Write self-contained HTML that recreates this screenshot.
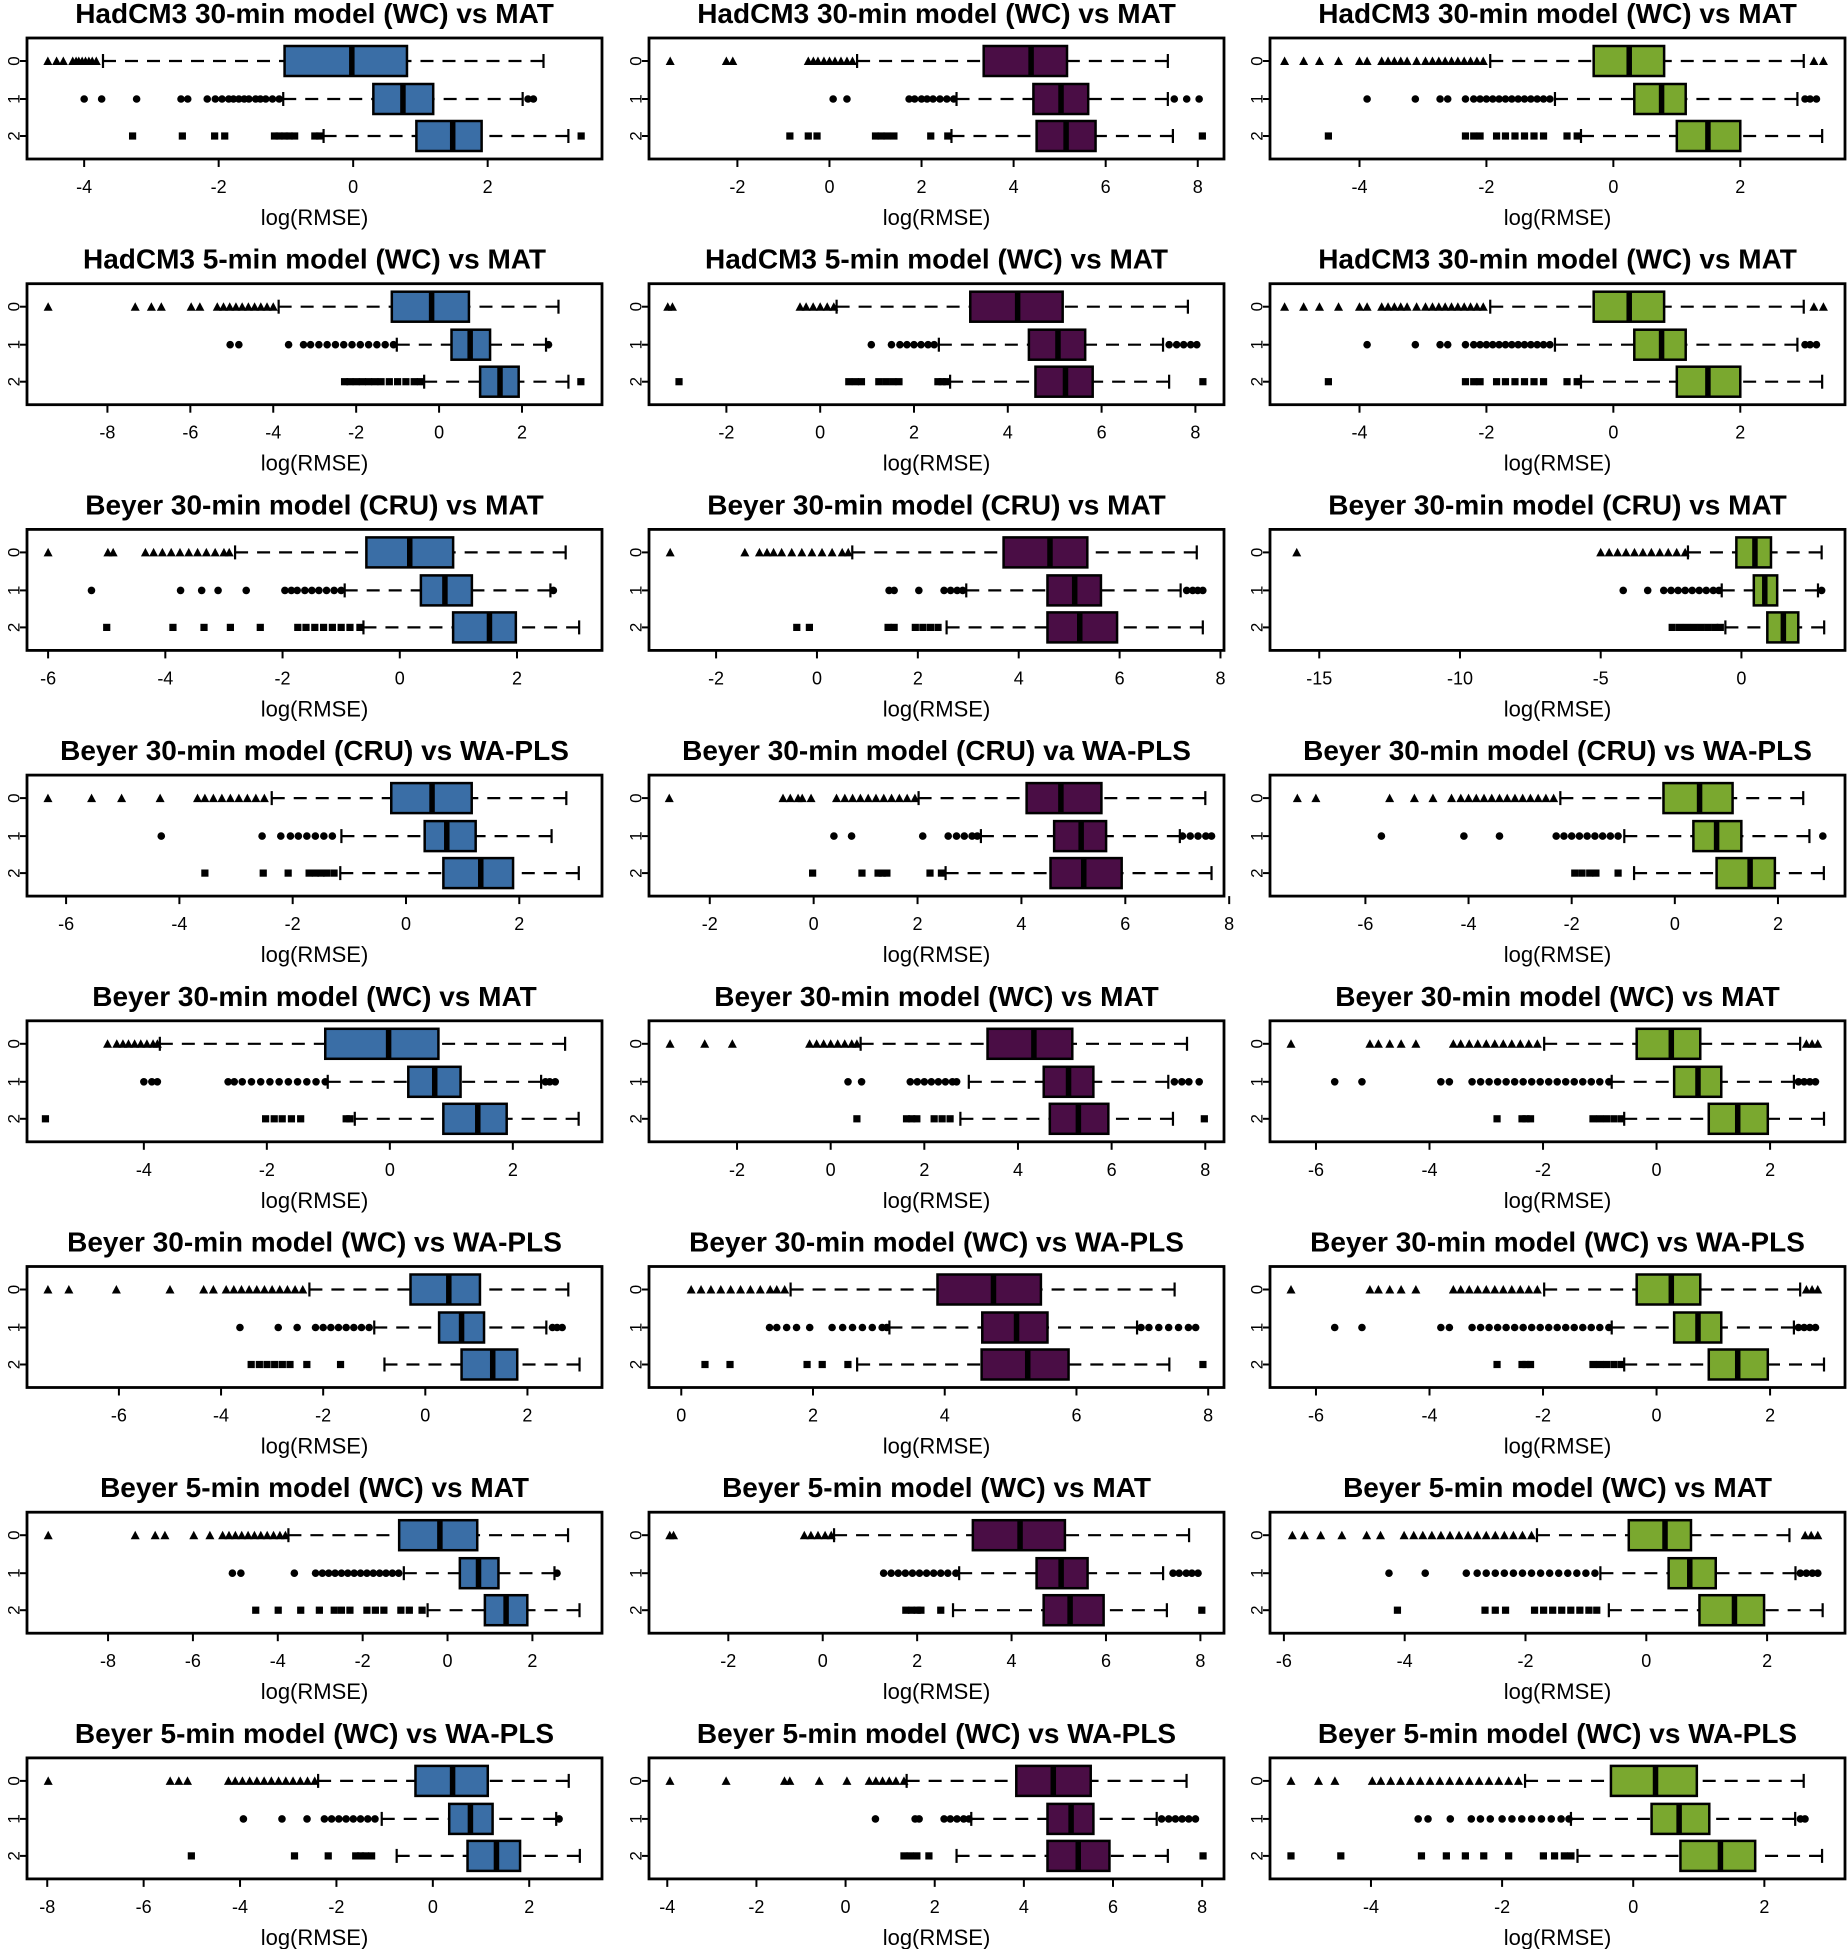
<!DOCTYPE html>
<html><head><meta charset="utf-8"><style>
html,body{margin:0;padding:0;background:#fff;}
svg{display:block;font-family:"Liberation Sans",Arial,sans-serif;}
</style></head><body>
<svg id="fig" width="1848" height="1949" viewBox="0 0 1848 1949" xmlns="http://www.w3.org/2000/svg"></svg>
<script>
const panelTitles = [
"HadCM3 30-min model (WC) vs MAT","HadCM3 30-min model (WC) vs MAT","HadCM3 30-min model (WC) vs MAT",
"HadCM3 5-min model (WC) vs MAT","HadCM3 5-min model (WC) vs MAT","HadCM3 30-min model (WC) vs MAT",
"Beyer 30-min model (CRU) vs MAT","Beyer 30-min model (CRU) vs MAT","Beyer 30-min model (CRU) vs MAT",
"Beyer 30-min model (CRU) vs WA-PLS","Beyer 30-min model (CRU) va WA-PLS","Beyer 30-min model (CRU) vs WA-PLS",
"Beyer 30-min model (WC) vs MAT","Beyer 30-min model (WC) vs MAT","Beyer 30-min model (WC) vs MAT",
"Beyer 30-min model (WC) vs WA-PLS","Beyer 30-min model (WC) vs WA-PLS","Beyer 30-min model (WC) vs WA-PLS",
"Beyer 5-min model (WC) vs MAT","Beyer 5-min model (WC) vs MAT","Beyer 5-min model (WC) vs MAT",
"Beyer 5-min model (WC) vs WA-PLS","Beyer 5-min model (WC) vs WA-PLS","Beyer 5-min model (WC) vs WA-PLS"];
const groupLabels = ["0","1","2"];
const xLabel = "log(RMSE)";
const panelDomains = [
[-4.85,3.70],[-3.92,8.57],[-5.41,3.65],
[-9.94,3.93],[-3.65,8.61],[-5.41,3.65],
[-6.36,3.45],[-3.33,8.07],[-16.75,3.68],
[-6.69,3.46],[-3.17,7.9],[-7.85,3.3],
[-5.9,3.45],[-3.88,8.4],[-6.81,3.32],
[-7.8,3.46],[-0.49,8.24],[-6.81,3.32],
[-9.91,3.64],[-3.68,8.5],[-6.23,3.29],
[-8.42,3.51],[-4.41,8.49],[-5.54,3.23]];
const panelTicks = [
[-4,-2,0,2],[-2,0,2,4,6,8],[-4,-2,0,2],
[-8,-6,-4,-2,0,2],[-2,0,2,4,6,8],[-4,-2,0,2],
[-6,-4,-2,0,2],[-2,0,2,4,6,8],[-15,-10,-5,0],
[-6,-4,-2,0,2],[-2,0,2,4,6,8],[-6,-4,-2,0,2],
[-4,-2,0,2],[-2,0,2,4,6,8],[-6,-4,-2,0,2],
[-6,-4,-2,0,2],[0,2,4,6,8],[-6,-4,-2,0,2],
[-8,-6,-4,-2,0,2],[-2,0,2,4,6,8],[-6,-4,-2,0,2],
[-8,-6,-4,-2,0,2],[-4,-2,0,2,4,6,8],[-4,-2,0,2]];
// [whiskerLow, q1, median, q3, whiskerHigh] per group
const boxStats = [
[[-3.72,-1.02,-0.02,0.8,2.83],[-1.04,0.3,0.74,1.19,2.52],[-0.44,0.94,1.48,1.91,3.2]],
[[0.6,3.35,4.38,5.16,7.35],[2.76,4.43,5.03,5.62,7.35],[2.65,4.5,5.14,5.78,7.46]],
[[-1.94,-0.31,0.25,0.8,3.0],[-0.92,0.33,0.76,1.14,2.9],[-0.51,1.0,1.49,2.0,3.29]],
[[-3.87,-1.14,-0.18,0.72,2.88],[-1.02,0.3,0.75,1.23,2.58],[-0.36,0.99,1.47,1.92,3.12]],
[[0.35,3.2,4.21,5.17,7.84],[2.53,4.45,5.07,5.65,7.31],[2.77,4.59,5.23,5.81,7.44]],
[[-1.94,-0.31,0.25,0.8,3.0],[-0.92,0.33,0.76,1.14,2.9],[-0.51,1.0,1.49,2.0,3.29]],
[[-2.81,-0.57,0.17,0.91,2.83],[-0.94,0.36,0.77,1.23,2.57],[-0.62,0.91,1.53,1.98,3.06]],
[[0.7,3.7,4.62,5.36,7.53],[2.96,4.57,5.11,5.63,7.21],[2.57,4.57,5.21,5.95,7.65]],
[[-1.9,-0.18,0.48,1.05,2.85],[-0.7,0.44,0.83,1.27,2.72],[-0.57,0.92,1.49,2.02,2.94]],
[[-2.37,-0.26,0.46,1.16,2.83],[-1.14,0.33,0.72,1.23,2.57],[-1.16,0.66,1.32,1.89,3.05]],
[[2.02,4.1,4.76,5.54,7.54],[3.22,4.63,5.15,5.63,7.05],[2.54,4.56,5.2,5.93,7.66]],
[[-2.22,-0.22,0.48,1.12,2.49],[-0.98,0.36,0.81,1.29,2.61],[-0.79,0.81,1.46,1.94,2.89]],
[[-3.74,-1.05,-0.02,0.79,2.85],[-1.01,0.3,0.73,1.15,2.46],[-0.57,0.87,1.43,1.9,3.07]],
[[0.64,3.35,4.34,5.16,7.61],[2.95,4.55,5.08,5.61,7.21],[2.77,4.68,5.29,5.93,7.31]],
[[-1.98,-0.35,0.26,0.77,2.53],[-0.79,0.31,0.73,1.14,2.42],[-0.57,0.92,1.43,1.96,2.95]],
[[-2.27,-0.29,0.46,1.07,2.8],[-1.0,0.27,0.71,1.15,2.37],[-0.8,0.71,1.32,1.8,3.02]],
[[1.66,3.89,4.74,5.46,7.49],[3.16,4.57,5.09,5.56,6.92],[2.67,4.56,5.26,5.88,7.41]],
[[-1.98,-0.35,0.26,0.77,2.53],[-0.79,0.31,0.73,1.14,2.42],[-0.57,0.92,1.43,1.96,2.95]],
[[-3.75,-1.14,-0.18,0.7,2.84],[-1.03,0.29,0.73,1.2,2.52],[-0.47,0.88,1.38,1.88,3.11]],
[[0.24,3.18,4.18,5.13,7.76],[2.89,4.53,5.05,5.61,7.21],[2.76,4.68,5.24,5.95,7.29]],
[[-1.81,-0.29,0.31,0.74,2.37],[-0.76,0.37,0.72,1.15,2.47],[-0.62,0.88,1.46,1.95,2.92]],
[[-2.38,-0.36,0.41,1.14,2.82],[-1.06,0.34,0.78,1.24,2.56],[-0.75,0.72,1.32,1.81,3.05]],
[[1.37,3.83,4.66,5.5,7.65],[2.82,4.53,5.06,5.56,6.98],[2.49,4.53,5.22,5.92,7.23]],
[[-1.65,-0.34,0.34,0.97,2.6],[-0.95,0.28,0.7,1.16,2.47],[-0.85,0.72,1.33,1.86,2.88]]];
const outliers = [
[[-4.54,-4.41,-4.31,-4.17,-4.12,-4.08,-4.03,-3.98,-3.93,-3.88,-3.82],[-4.0,-3.74,-3.22,-2.56,-2.46,-2.17,-2.05,-1.95,-1.85,-1.78,-1.7,-1.62,-1.55,-1.45,-1.38,-1.3,-1.2,-1.1,2.6,2.68],[-3.28,-2.54,-2.06,-1.91,-1.17,-1.1,-1.02,-0.95,-0.87,-0.57,-0.5,3.39]],
[[-3.46,-2.24,-2.1,-0.46,-0.35,-0.25,-0.12,0.0,0.12,0.25,0.38,0.5],[0.08,0.38,1.73,1.85,2.0,2.12,2.25,2.4,2.55,2.7,7.49,7.76,8.03],[-0.86,-0.46,-0.27,1.0,1.12,1.25,1.4,2.2,2.57,8.1]],
[[-5.18,-4.88,-4.63,-4.33,-4.0,-3.88,-3.65,-3.55,-3.45,-3.35,-3.25,-3.1,-2.96,-2.85,-2.75,-2.65,-2.55,-2.45,-2.35,-2.25,-2.15,-2.05,3.16,3.31],[-3.88,-3.12,-2.73,-2.61,-2.33,-2.2,-2.1,-2.0,-1.9,-1.8,-1.7,-1.6,-1.5,-1.4,-1.3,-1.2,-1.1,-1.0,3.02,3.1,3.2],[-4.49,-2.33,-2.2,-2.1,-1.84,-1.7,-1.55,-1.4,-1.25,-1.1,-0.73,-0.57]],
[[-9.43,-7.33,-6.94,-6.7,-5.98,-5.77,-5.35,-5.2,-5.05,-4.9,-4.75,-4.6,-4.45,-4.3,-4.15,-4.0],[-5.04,-4.83,-3.63,-3.27,-3.1,-2.9,-2.7,-2.5,-2.3,-2.1,-1.9,-1.7,-1.5,-1.3,-1.1,2.64],[-2.28,-2.15,-2.0,-1.85,-1.7,-1.55,-1.4,-1.2,-1.0,-0.8,-0.6,-0.45,3.42]],
[[-3.25,-3.15,-0.43,-0.3,-0.15,0.0,0.15,0.29],[1.09,1.52,1.7,1.85,2.0,2.15,2.3,2.43,7.44,7.6,7.75,7.9,8.03],[-3.01,0.61,0.75,0.88,1.25,1.4,1.55,1.68,2.51,2.6,2.69,8.16]],
[[-5.18,-4.88,-4.63,-4.33,-4.0,-3.88,-3.65,-3.55,-3.45,-3.35,-3.25,-3.1,-2.96,-2.85,-2.75,-2.65,-2.55,-2.45,-2.35,-2.25,-2.15,-2.05,3.16,3.31],[-3.88,-3.12,-2.73,-2.61,-2.33,-2.2,-2.1,-2.0,-1.9,-1.8,-1.7,-1.6,-1.5,-1.4,-1.3,-1.2,-1.1,-1.0,3.02,3.1,3.2],[-4.49,-2.33,-2.2,-2.1,-1.84,-1.7,-1.55,-1.4,-1.25,-1.1,-0.73,-0.57]],
[[-6.0,-4.98,-4.89,-4.34,-4.2,-4.05,-3.9,-3.75,-3.6,-3.45,-3.3,-3.15,-3.0,-2.91],[-5.26,-3.74,-3.38,-3.1,-2.62,-1.96,-1.85,-1.75,-1.62,-1.5,-1.38,-1.25,-1.12,-1.0,2.62],[-5.0,-3.87,-3.34,-2.89,-2.38,-1.74,-1.6,-1.45,-1.3,-1.15,-1.0,-0.85,-0.68]],
[[-2.91,-1.43,-1.14,-0.99,-0.86,-0.7,-0.5,-0.3,-0.1,0.1,0.3,0.5,0.62],[1.43,1.53,2.02,2.52,2.65,2.78,2.89,7.33,7.45,7.55,7.65],[-0.4,-0.15,1.41,1.53,1.95,2.1,2.25,2.4]],
[[-15.8,-5.0,-4.7,-4.4,-4.1,-3.8,-3.5,-3.2,-2.9,-2.6,-2.3,-2.0],[-4.2,-3.33,-2.76,-2.5,-2.25,-2.0,-1.75,-1.5,-1.25,-1.0,-0.8,2.85],[-2.46,-2.2,-1.95,-1.7,-1.45,-1.2,-0.95,-0.75]],
[[-6.32,-5.55,-5.02,-4.34,-3.68,-3.55,-3.4,-3.25,-3.1,-2.95,-2.8,-2.65,-2.5],[-4.32,-2.54,-2.21,-2.04,-1.9,-1.75,-1.6,-1.45,-1.3],[-3.55,-2.52,-2.08,-1.71,-1.6,-1.5,-1.4,-1.27]],
[[-2.78,-0.59,-0.45,-0.3,-0.22,-0.05,0.44,0.6,0.75,0.9,1.05,1.2,1.35,1.5,1.65,1.8,1.95],[0.39,0.73,2.1,2.59,2.75,2.9,3.05,3.15,7.1,7.25,7.4,7.55,7.66],[-0.02,0.93,1.24,1.32,1.41,2.24,2.46]],
[[-7.32,-6.96,-5.53,-5.05,-4.69,-4.33,-4.15,-4.0,-3.85,-3.7,-3.55,-3.4,-3.25,-3.1,-2.95,-2.8,-2.65,-2.5,-2.35],[-5.69,-4.09,-3.4,-2.3,-2.15,-2.0,-1.85,-1.7,-1.55,-1.4,-1.25,-1.1,2.87],[-1.94,-1.8,-1.65,-1.53,-1.1]],
[[-4.59,-4.44,-4.34,-4.25,-4.15,-4.05,-3.95,-3.85,-3.78],[-4.0,-3.87,-3.78,-2.63,-2.53,-2.4,-2.25,-2.1,-1.95,-1.8,-1.65,-1.5,-1.35,-1.2,-1.05,2.53,2.6,2.69],[-5.6,-2.02,-1.88,-1.75,-1.6,-1.45,-0.71,-0.65]],
[[-3.43,-2.69,-2.1,-0.45,-0.3,-0.15,0.0,0.15,0.3,0.45,0.56],[0.37,0.66,1.7,1.85,2.0,2.15,2.3,2.45,2.6,2.69,7.34,7.5,7.65,7.87],[0.56,1.62,1.73,1.84,2.21,2.38,2.55,7.98]],
[[-6.44,-5.05,-4.9,-4.7,-4.5,-4.24,-3.58,-3.45,-3.3,-3.15,-3.0,-2.85,-2.7,-2.55,-2.4,-2.25,-2.1,2.64,2.74,2.84],[-5.67,-5.19,-3.8,-3.65,-3.25,-3.1,-2.95,-2.8,-2.65,-2.5,-2.35,-2.2,-2.05,-1.9,-1.75,-1.6,-1.45,-1.3,-1.15,-1.0,-0.84,2.5,2.6,2.7,2.8],[-2.81,-2.37,-2.3,-2.22,-1.12,-1.0,-0.88,-0.75,-0.62]],
[[-7.39,-6.98,-6.05,-5.0,-4.34,-4.15,-3.9,-3.75,-3.6,-3.45,-3.3,-3.15,-3.0,-2.85,-2.7,-2.55,-2.4],[-3.63,-2.88,-2.51,-2.15,-2.0,-1.85,-1.7,-1.55,-1.4,-1.25,-1.1,2.49,2.58,2.68],[-3.41,-3.25,-3.1,-2.95,-2.8,-2.65,-2.32,-1.66]],
[[0.15,0.3,0.45,0.6,0.75,0.9,1.05,1.2,1.35,1.45,1.57],[1.34,1.45,1.6,1.75,1.95,2.29,2.45,2.6,2.75,2.9,3.05,3.12,6.98,7.1,7.25,7.4,7.55,7.7,7.81],[0.36,0.74,1.91,2.14,2.53,7.92]],
[[-6.44,-5.05,-4.9,-4.7,-4.5,-4.24,-3.58,-3.45,-3.3,-3.15,-3.0,-2.85,-2.7,-2.55,-2.4,-2.25,-2.1,2.64,2.74,2.84],[-5.67,-5.19,-3.8,-3.65,-3.25,-3.1,-2.95,-2.8,-2.65,-2.5,-2.35,-2.2,-2.05,-1.9,-1.75,-1.6,-1.45,-1.3,-1.15,-1.0,-0.84,2.5,2.6,2.7,2.8],[-2.81,-2.37,-2.3,-2.22,-1.12,-1.0,-0.88,-0.75,-0.62]],
[[-9.41,-7.36,-6.89,-6.66,-5.98,-5.6,-5.3,-5.15,-5.0,-4.85,-4.7,-4.55,-4.4,-4.25,-4.1,-3.95,-3.82],[-5.07,-4.87,-3.61,-3.11,-2.95,-2.8,-2.65,-2.5,-2.35,-2.2,-2.05,-1.9,-1.75,-1.6,-1.45,-1.3,-1.15,2.58],[-4.52,-3.99,-3.46,-3.02,-2.67,-2.5,-2.3,-1.9,-1.7,-1.5,-1.1,-0.9,-0.6]],
[[-3.24,-3.16,-0.39,-0.25,-0.1,0.05,0.18],[1.29,1.45,1.6,1.75,1.9,2.05,2.2,2.35,2.5,2.65,2.82,7.42,7.55,7.7,7.82,7.95],[1.76,1.88,2.0,2.08,2.5,8.03]],
[[-5.86,-5.66,-5.39,-5.04,-4.63,-4.4,-4.01,-3.85,-3.7,-3.55,-3.4,-3.25,-3.1,-2.95,-2.8,-2.65,-2.5,-2.35,-2.2,-2.05,-1.9,2.63,2.73,2.84],[-4.26,-3.66,-2.98,-2.8,-2.65,-2.5,-2.35,-2.2,-2.05,-1.9,-1.75,-1.6,-1.45,-1.3,-1.15,-1.0,-0.85,2.55,2.65,2.75,2.84],[-4.12,-2.67,-2.5,-2.33,-1.85,-1.7,-1.55,-1.4,-1.25,-1.1,-0.95,-0.82]],
[[-7.98,-5.45,-5.27,-5.09,-4.24,-4.1,-3.95,-3.8,-3.65,-3.5,-3.35,-3.2,-3.05,-2.9,-2.75,-2.6,-2.45],[-3.93,-3.13,-2.61,-2.25,-2.1,-1.95,-1.8,-1.65,-1.5,-1.35,-1.2,2.62],[-5.01,-2.87,-2.17,-1.6,-1.5,-1.4,-1.27]],
[[-3.94,-2.68,-1.37,-1.25,-0.59,0.03,0.53,0.68,0.83,0.98,1.13,1.31],[0.67,1.56,1.65,2.21,2.35,2.5,2.65,2.77,7.09,7.25,7.4,7.55,7.7,7.85],[1.31,1.45,1.6,1.87,8.02]],
[[-5.22,-4.8,-4.55,-3.98,-3.85,-3.7,-3.55,-3.4,-3.25,-3.1,-2.95,-2.8,-2.65,-2.5,-2.35,-2.2,-2.05,-1.9,-1.75],[-3.28,-3.13,-2.79,-2.47,-2.33,-2.18,-2.0,-1.85,-1.7,-1.55,-1.4,-1.25,-1.1,-0.98,2.55,2.62],[-5.22,-4.46,-3.23,-2.85,-2.56,-2.28,-1.9,-1.37,-1.2,-1.05,-0.95]]];

const NS = "http://www.w3.org/2000/svg";
const svg = document.getElementById('fig');
const colLeft = [27, 649, 1270];
const colW = 575;
const colFill = ["#3a6ea6", "#4a0d45", "#7aa82f"];
const rowTop0 = 38, rowPitch = 245.7, boxH = 121;
const groupOff = [23, 61, 98];
function mk(tag, attrs, parent){ const e=document.createElementNS(NS,tag); for(const k in attrs) e.setAttribute(k,attrs[k]); (parent||svg).appendChild(e); return e; }

for (let p = 0; p < 24; p++) {
  const r = Math.floor(p/3), c = p % 3;
  const L = colLeft[c], T = rowTop0 + r*rowPitch;
  const [d0, d1] = panelDomains[p];
  const xs = v => L + (v - d0) / (d1 - d0) * colW;
  const g = mk('g', {});
  
  
  const t = mk('text', {x: L + colW/2, y: T - 15, 'text-anchor':'middle', 'font-size':28, 'font-weight':'bold', fill:'#000'}, g);
  t.textContent = panelTitles[p];
  
  
  for (let k = 0; k < 3; k++) {
    const cy = T + groupOff[k];
    const s = boxStats[p][k];
    const gg = mk('g', {}, g);
    
    
    mk('line', {x1: xs(s[0]), x2: xs(s[1]), y1: cy, y2: cy, stroke:'#000', 'stroke-width':2.2, 'stroke-dasharray':'13 9'}, gg);
    mk('line', {x1: xs(s[4]), x2: xs(s[3]), y1: cy, y2: cy, stroke:'#000', 'stroke-width':2.2, 'stroke-dasharray':'13 9'}, gg);
    mk('line', {x1: xs(s[0]), x2: xs(s[0]), y1: cy-7, y2: cy+7, stroke:'#000', 'stroke-width':2.2}, gg);
    mk('line', {x1: xs(s[4]), x2: xs(s[4]), y1: cy-7, y2: cy+7, stroke:'#000', 'stroke-width':2.2}, gg);
    mk('rect', {x: xs(s[1]), y: cy-15, width: xs(s[3])-xs(s[1]), height: 30, fill: colFill[c], stroke:'#000', 'stroke-width':2.5}, gg);
    mk('line', {x1: xs(s[2]), x2: xs(s[2]), y1: cy-15, y2: cy+15, stroke:'#000', 'stroke-width':5.5}, gg);
    for (const v of outliers[p][k]) {
      const x = xs(v);
      let m;
      if (k === 0) m = mk('path', {d:`M${x-4.5},${cy+4} L${x+4.5},${cy+4} L${x},${cy-4.5} Z`, fill:'#000'}, gg);
      else if (k === 1) m = mk('circle', {cx:x, cy:cy, r:3.8, fill:'#000'}, gg);
      else m = mk('rect', {x:x-3.6, y:cy-3.6, width:7.2, height:7.2, fill:'#000'}, gg);
      
      
    }
    mk('line', {x1: L-7, x2: L, y1: cy, y2: cy, stroke:'#000', 'stroke-width':2}, g);
    const yl = mk('text', {x: L-13, y: cy, 'text-anchor':'middle', 'dominant-baseline':'central', 'font-size':17, transform:`rotate(-90 ${L-13} ${cy})`}, g);
    yl.textContent = groupLabels[k];
    
    
  }
  const fr = mk('rect', {x: L, y: T, width: colW, height: boxH, fill:'none', stroke:'#000', 'stroke-width':2.8}, g);
  
  
  for (const tv of panelTicks[p]) {
    const x = xs(tv);
    mk('line', {x1:x, x2:x, y1:T+boxH, y2:T+boxH+8, stroke:'#000', 'stroke-width':2}, g);
    const tl = mk('text', {x:x, y:T+155, 'text-anchor':'middle', 'font-size':18}, g);
    tl.textContent = tv;
    
    
  }
  const xl = mk('text', {x: L + colW/2, y: T + 187, 'text-anchor':'middle', 'font-size':22}, g);
  xl.textContent = xLabel;
  
  
}
</script>
</body></html>
